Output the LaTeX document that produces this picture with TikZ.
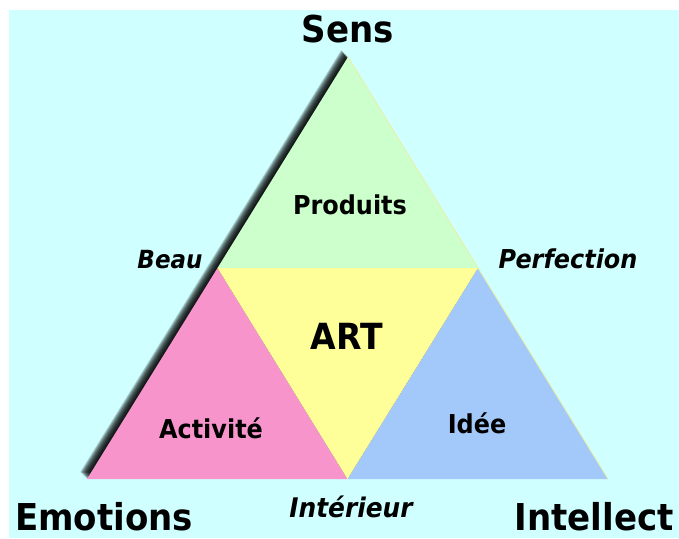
\documentclass[tikz,border=0pt]{standalone}
\usepackage{fontspec}
\usetikzlibrary{calc}
\newfontfamily\labfont{DejaVu Sans}[FakeStretch=0.92]
\definecolor{bgcyan}{RGB}{207,255,255}
\definecolor{topgreen}{RGB}{204,255,204}
\definecolor{midyellow}{RGB}{255,255,153}
\definecolor{leftpink}{RGB}{248,148,204}
\definecolor{rightblue}{RGB}{163,200,250}
\definecolor{rimyellow}{RGB}{235,240,160}
\tikzset{
  corner/.style={font=\labfont\bfseries\fontsize{37}{40}\selectfont, anchor=base, inner sep=0pt},
  side/.style={font=\labfont\bfseries\itshape\fontsize{25}{28}\selectfont, anchor=base, inner sep=0pt},
  part/.style={font=\labfont\bfseries\fontsize{26}{29}\selectfont, anchor=base, inner sep=0pt},
  centre/.style={font=\labfont\bfseries\fontsize{36}{40}\selectfont, anchor=base, inner sep=0pt},
}
\begin{document}
\begin{tikzpicture}[x=1pt,y=-1pt]
\useasboundingbox (0,0) rectangle (679,538);
\fill[white] (0,0) rectangle (679,538);
\fill[bgcyan] (9,10) rectangle (679,538);

% vertices of the big triangle and the midpoints of its sides
\coordinate (top) at (348,57);
\coordinate (bl) at (87,479);
\coordinate (br) at (608,479);
\coordinate (ml) at ($(top)!0.5!(bl)$);
\coordinate (mr) at ($(top)!0.5!(br)$);
\coordinate (mb) at ($(bl)!0.5!(br)$);

% soft drop shadow towards the upper left
\foreach \k in {1,...,11}{
  \fill[black, opacity=0.19]
    ([xshift=-0.62*\k pt, yshift=0.62*\k pt]top) --
    ([xshift=-0.62*\k pt, yshift=0.62*\k pt]bl) --
    ([xshift=-0.62*\k pt, yshift=0.62*\k pt]br) -- cycle;
}

% the four inner triangles
\fill[topgreen] (top) -- (ml) -- (mr) -- cycle;
\fill[leftpink] (ml) -- (bl) -- (mb) -- cycle;
\fill[rightblue] (mr) -- (mb) -- (br) -- cycle;
\fill[midyellow] (ml) -- (mr) -- (mb) -- cycle;
\draw[rimyellow, line width=0.8pt] (top) -- (br);

% labels
\node[corner] (sens) at (348,42) {Sens};
\node[corner] (emotions) at (104,530) {Emotions};
\node[corner] (intellect) at (594,530) {Intellect};
\node[side, font=\labfont\bfseries\itshape\fontsize{27}{30}\selectfont] (interieur) at (351,517) {Intérieur};
\node[side] (beau) at (170,268) {Beau};
\node[side, font=\labfont\bfseries\itshape\fontsize{26}{29}\selectfont] (perfection) at (568,268) {Perfection};
\node[part] (produits) at (350,214) {Produits};
\node[centre] (art) at (347,349) {ART};
\node[part] (activite) at (211,438) {Activité};
\node[part] (idee) at (477,433) {Idée};
\end{tikzpicture}
\end{document}
